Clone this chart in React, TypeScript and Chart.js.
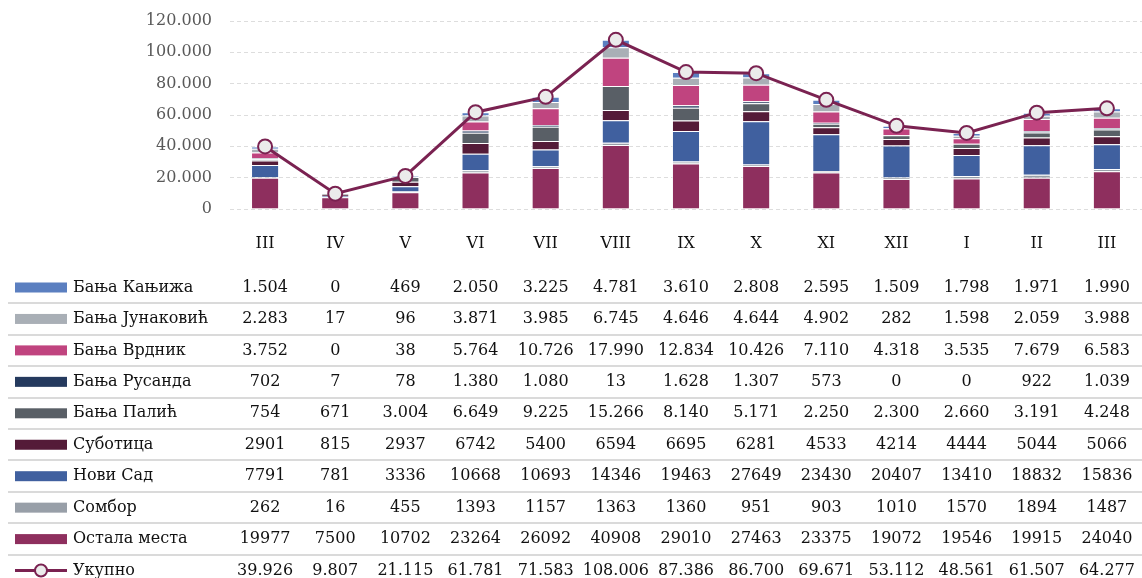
import React, { useEffect, useRef } from "react";
import { Chart, registerables } from "chart.js";

Chart.register(...registerables);

const months = ["III", "IV", "V", "VI", "VII", "VIII", "IX", "X", "XI", "XII", "I", "II", "III"];

const kanjiza = [1504, 0, 469, 2050, 3225, 4781, 3610, 2808, 2595, 1509, 1798, 1971, 1990];
const junakovic = [2283, 17, 96, 3871, 3985, 6745, 4646, 4644, 4902, 282, 1598, 2059, 3988];
const vrdnik = [3752, 0, 38, 5764, 10726, 17990, 12834, 10426, 7110, 4318, 3535, 7679, 6583];
const rusanda = [702, 7, 78, 1380, 1080, 13, 1628, 1307, 573, 0, 0, 922, 1039];
const palic = [754, 671, 3004, 6649, 9225, 15266, 8140, 5171, 2250, 2300, 2660, 3191, 4248];
const subotica = [2901, 815, 2937, 6742, 5400, 6594, 6695, 6281, 4533, 4214, 4444, 5044, 5066];
const noviSad = [7791, 781, 3336, 10668, 10693, 14346, 19463, 27649, 23430, 20407, 13410, 18832, 15836];
const sombor = [262, 16, 455, 1393, 1157, 1363, 1360, 951, 903, 1010, 1570, 1894, 1487];
const ostala = [19977, 7500, 10702, 23264, 26092, 40908, 29010, 27463, 23375, 19072, 19546, 19915, 24040];
const ukupno = [39926, 9807, 21115, 61781, 71583, 108006, 87386, 86700, 69671, 53112, 48561, 61507, 64277];

const yTicks = [0, 20000, 40000, 60000, 80000, 100000, 120000];

// Bar series, bottom of stack first
const barSeries = [
  { name: "Остала места", data: ostala, color: "#8e2f5e", dots: false },
  { name: "Сомбор", data: sombor, color: "#989fa8", dots: false },
  { name: "Нови Сад", data: noviSad, color: "#40609f", dots: false },
  { name: "Суботица", data: subotica, color: "#541b38", dots: false },
  { name: "Бања Палић", data: palic, color: "#595f66", dots: true },
  { name: "Бања Русанда", data: rusanda, color: "#253a5e", dots: true },
  { name: "Бања Врдник", data: vrdnik, color: "#c0447f", dots: true },
  { name: "Бања Јунаковић", data: junakovic, color: "#a9afb6", dots: true },
  { name: "Бања Кањижа", data: kanjiza, color: "#5b7fc0", dots: true },
];
const totalSeries = { name: "Укупно", data: ukupno, color: "#7a2251", dots: true };

const FONT = "'DejaVu Serif', serif";

function fmtDots(v: number): string {
  const s = String(Math.round(v));
  let out = "";
  for (let i = 0; i < s.length; i++) {
    const rem = s.length - i;
    out += s[i];
    if (rem > 1 && (rem - 1) % 3 === 0) out += ".";
  }
  return out;
}

const tablePlugin = {
  id: "dataTable",
  afterDraw(chart: any) {
    const ctx = chart.ctx as CanvasRenderingContext2D;
    const xs = chart.scales.x;
    const rows = [...barSeries].reverse().map((s) => ({ ...s, line: false }));
    const all = [...rows, { ...totalSeries, line: true }];
    const firstY = 287.5;
    const step = 31.45;
    ctx.save();
    // separators
    ctx.strokeStyle = "#dadada";
    ctx.lineWidth = 2;
    for (let i = 0; i < all.length - 1; i++) {
      const y = Math.round(firstY + i * step + step / 2);
      ctx.beginPath();
      ctx.moveTo(8, y);
      ctx.lineTo(chart.width, y);
      ctx.stroke();
    }
    ctx.font = `16px ${FONT}`;
    ctx.textBaseline = "middle";
    all.forEach((r, i) => {
      const y = firstY + i * step;
      if (r.line) {
        ctx.strokeStyle = r.color;
        ctx.lineWidth = 3;
        ctx.beginPath();
        ctx.moveTo(15, y);
        ctx.lineTo(67, y);
        ctx.stroke();
        ctx.beginPath();
        ctx.arc(41, y, 6, 0, Math.PI * 2);
        ctx.fillStyle = "#ebebeb";
        ctx.fill();
        ctx.lineWidth = 2;
        ctx.stroke();
      } else {
        ctx.fillStyle = r.color;
        ctx.fillRect(15, y - 5, 52, 10);
      }
      ctx.fillStyle = "#111111";
      ctx.textAlign = "left";
      ctx.fillText(r.name, 73, y);
      ctx.textAlign = "center";
      r.data.forEach((v: number, j: number) => {
        const x = xs.getPixelForValue(j);
        ctx.fillText(r.dots ? fmtDots(v) : String(v), x, y);
      });
    });
    ctx.restore();
  },
};

export default function App() {
  const ref = useRef<HTMLCanvasElement | null>(null);
  useEffect(() => {
    if (!ref.current) return;
    const datasets: any[] = barSeries.map((s) => ({
      type: "bar",
      label: s.name,
      data: s.data,
      backgroundColor: s.color,
      borderColor: "rgba(255,255,255,0.55)",
      borderWidth: 1,
      stack: "bars",
      order: 1,
      categoryPercentage: 1,
      barPercentage: 0.4,
    }));
    datasets.push({
      type: "line",
      label: totalSeries.name,
      data: totalSeries.data,
      borderColor: totalSeries.color,
      borderWidth: 3,
      pointRadius: 7,
      pointBackgroundColor: "#ebebeb",
      pointBorderColor: totalSeries.color,
      pointBorderWidth: 2,
      tension: 0,
      stack: "total",
      order: 0,
      clip: false,
    });
    const chart = new Chart(ref.current, {
      type: "bar",
      data: { labels: months, datasets },
      options: {
        animation: false,
        responsive: false,
        maintainAspectRatio: false,
        layout: { autoPadding: false, padding: { top: 21, right: 0, left: 0, bottom: 0 } },
        plugins: { legend: { display: false }, tooltip: { enabled: false } },
        scales: {
          x: {
            stacked: true,
            offset: true,
            grid: { display: false, drawTicks: false },
            border: { display: false },
            ticks: { color: "#111111", font: { family: FONT, size: 16 }, padding: 25, maxRotation: 0, autoSkip: false },
            afterFit: (s: any) => {
              s.height = 369;
              s.paddingLeft = 0;
              s.paddingRight = 0;
            },
          },
          y: {
            stacked: true,
            min: 0,
            max: 120000,
            afterBuildTicks: (s: any) => {
              s.ticks = yTicks.map((v) => ({ value: v }));
            },
            afterFit: (s: any) => {
              s.width = 230;
              s.paddingTop = 0;
              s.paddingBottom = 0;
            },
            grid: { color: "#dddddd", lineWidth: 1, drawTicks: false },
            border: { display: false, dash: [4, 3] },
            ticks: {
              color: "#595959",
              font: { family: FONT, size: 16 },
              padding: 18,
              callback: (v: any) => fmtDots(Number(v)),
            },
          },
        },
      },
      plugins: [tablePlugin],
    } as any);
    return () => chart.destroy();
  }, []);
  return (
    <div style={{ position: "fixed", left: 0, top: 0, width: 1142, height: 578, background: "#ffffff" }}>
      <canvas ref={ref} width={1142} height={578} style={{ display: "block" }} />
    </div>
  );
}
